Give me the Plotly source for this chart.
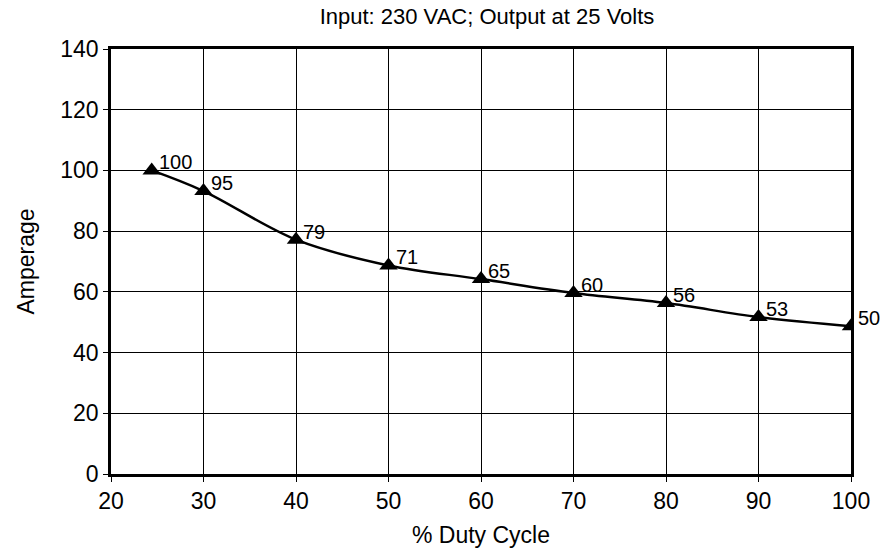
import plotly.graph_objects as go

duty_cycle = [24.4, 30, 40, 50, 60, 70, 80, 90, 100]
amperage = [100.0, 93.2, 77.2, 68.7, 64.2, 59.6, 56.3, 51.7, 48.7]
point_labels = ["100", "95", "79", "71", "65", "60", "56", "53", "50"]

title_text = "Input: 230 VAC; Output at 25 Volts"
x_title = "% Duty Cycle"
y_title = "Amperage"

FONT = "Liberation Sans, Arial, sans-serif"

fig = go.Figure()
fig.add_trace(go.Scatter(
    x=duty_cycle, y=amperage,
    mode="lines+markers",
    line=dict(color="black", width=2.5, shape="spline", smoothing=1.0),
    marker=dict(symbol="triangle-up", size=16, color="black"),
    showlegend=False,
    hoverinfo="skip",
))

for xv, yv, lab in zip(duty_cycle, amperage, point_labels):
    fig.add_annotation(
        x=xv, y=yv, text=lab, showarrow=False,
        xanchor="left", yanchor="middle",
        xshift=5, yshift=8,
        font=dict(family=FONT, size=20, color="black"),
    )

fig.update_layout(
    width=893, height=548,
    margin=dict(l=111, r=42, t=49, b=74, autoexpand=False),
    paper_bgcolor="white", plot_bgcolor="white",
    font=dict(family=FONT, color="black"),
    title=dict(
        text=title_text, x=487/893, xref="container", xanchor="center",
        y=1 - 16/548, yref="container", yanchor="middle",
        font=dict(family=FONT, size=22, color="black"),
        automargin=False,
    ),
)

fig.update_xaxes(
    range=[20, 100], dtick=10, tick0=20,
    showgrid=True, gridcolor="black", gridwidth=1,
    showline=True, linecolor="black", linewidth=2.5, mirror=True,
    ticks="outside", ticklen=5, tickwidth=1, tickcolor="black",
    tickfont=dict(family=FONT, size=23, color="black"),
    zeroline=False, automargin=False,
    title=dict(text=x_title, font=dict(family=FONT, size=23, color="black"), standoff=16),
)
fig.update_yaxes(
    range=[0, 140], dtick=20, tick0=0,
    showgrid=True, gridcolor="black", gridwidth=1,
    showline=True, linecolor="black", linewidth=2.5, mirror=True,
    ticks="outside", ticklen=5, tickwidth=1, tickcolor="black",
    tickfont=dict(family=FONT, size=23, color="black"),
    zeroline=False, automargin=False,
    title=dict(text=y_title, font=dict(family=FONT, size=23, color="black"), standoff=20),
)

fig.write_html(
    "out.html",
    config={"displayModeBar": False},
    post_script="document.body.style.margin='0px'; document.body.style.padding='0px';",
)
